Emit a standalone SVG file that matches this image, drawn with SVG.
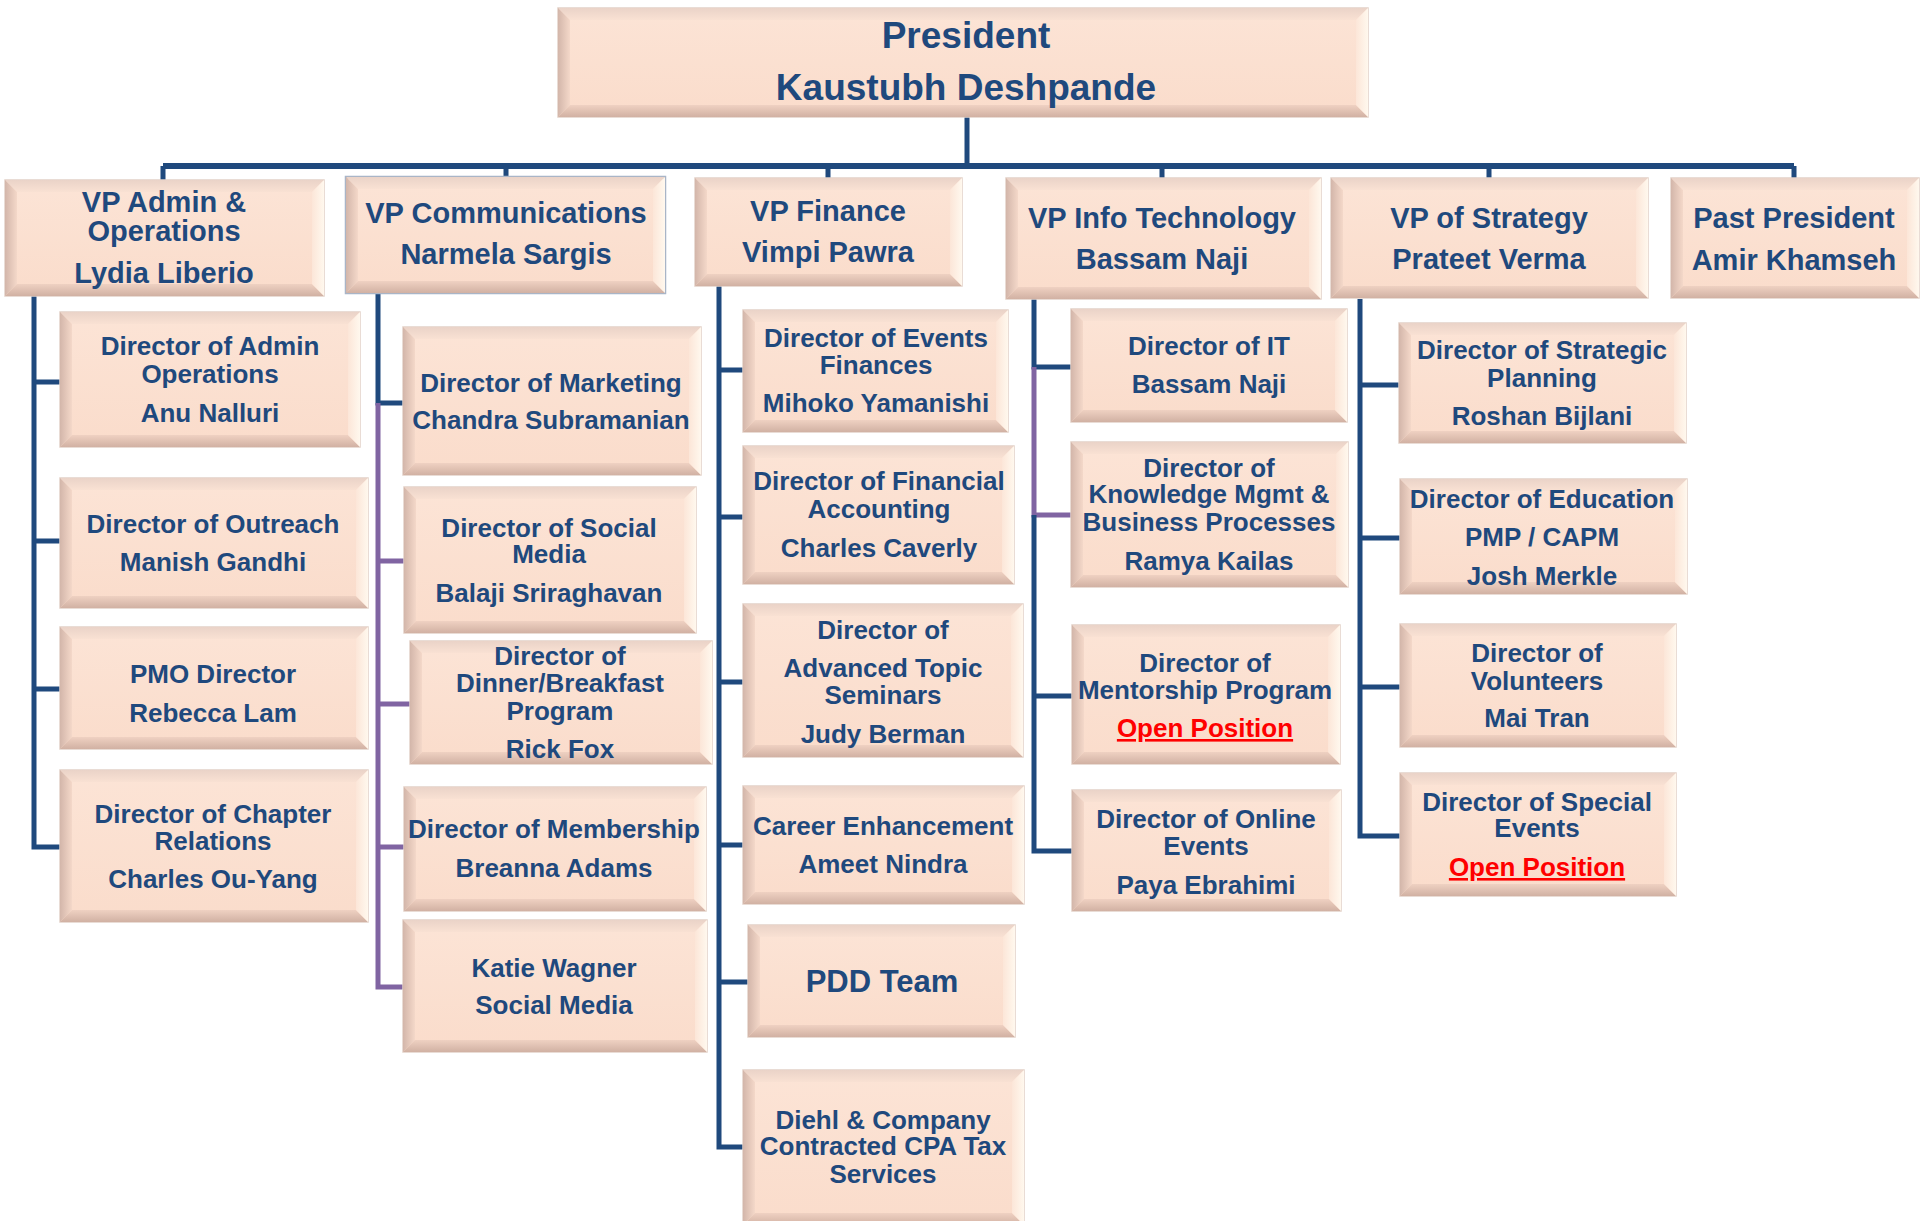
<svg xmlns="http://www.w3.org/2000/svg" width="1920" height="1221" viewBox="0 0 1920 1221">
<defs>
<linearGradient id="gF" x1="0" y1="0" x2="0" y2="1"><stop offset="0" stop-color="#FCE4D6"/><stop offset="1" stop-color="#FADCCB"/></linearGradient>
<linearGradient id="gT" x1="0" y1="0" x2="0" y2="1"><stop offset="0" stop-color="#EAD3C8"/><stop offset="1" stop-color="#F9E1D3"/></linearGradient>
<linearGradient id="gL" x1="0" y1="0" x2="1" y2="0"><stop offset="0" stop-color="#D3B6AA"/><stop offset="1" stop-color="#F4D8C9"/></linearGradient>
<linearGradient id="gB" x1="0" y1="0" x2="0" y2="1"><stop offset="0" stop-color="#EFD1C2"/><stop offset="1" stop-color="#D1B1A3"/></linearGradient>
<linearGradient id="gR" x1="0" y1="0" x2="1" y2="0"><stop offset="0" stop-color="#FCE6D8"/><stop offset="1" stop-color="#FFF8EE"/></linearGradient>
</defs>
<style>
.t{font-family:"Liberation Sans",Arial,Helvetica,sans-serif;font-weight:bold;fill:#1F497D;text-anchor:middle}
.p{font-size:37px}.vp{font-size:29px}.d{font-size:26px}.big{font-size:31px}
.open{fill:#FF0000;text-decoration:underline}
.face{fill:url(#gF);stroke:#E2D1C7;stroke-width:1.5}
.bt{fill:url(#gT)}.bl{fill:url(#gL)}.bb{fill:url(#gB)}.br{fill:url(#gR)}
.ln{fill:none;stroke:#1F497D;stroke-width:5}
.lp{fill:none;stroke:#8064A2;stroke-width:5}
</style>
<rect width="1920" height="1221" fill="#FFFFFF"/>

<g id="connectors">
<path class="ln" d="M967,117 V166"/>
<path class="ln" style="stroke-width:6" d="M163,166 H1794"/>
<path class="ln" d="M163,166 V180 M506,166 V177 M828,166 V178 M1162,166 V178 M1489,166 V178 M1794,166 V178"/>
<path class="ln" d="M34,296 V847 H60 M34,382 H60 M34,541 H60 M34,689 H60"/>
<path class="ln" d="M378,293 V403 H403"/>
<path class="lp" d="M378,403 V987 H403 M378,561 H404 M378,704 H410 M378,847 H404"/>
<path class="ln" d="M719,286 V1147 H743 M719,370 H743 M719,517 H743 M719,682 H743 M719,845 H743 M719,982 H748"/>
<path class="ln" d="M1034,299 V367 H1071"/>
<path class="lp" d="M1034,367 V515 H1071"/>
<path class="ln" d="M1034,515 V851 H1072 M1034,696 H1072"/>
<path class="ln" d="M1360,299 V836 H1400 M1360,385 H1400 M1360,538 H1400 M1360,687 H1400"/>
</g>

<g id="president">
<g transform="translate(558,8)"><rect class="face" width="810" height="109"/><polygon class="bt" points="0,0 810,0 798,12 12,12"/><polygon class="bl" points="0,0 12,12 12,97 0,109"/><polygon class="bb" points="0,109 12,97 798,97 810,109"/><polygon class="br" points="810,0 810,109 798,97 798,12"/></g>
<text class="t p" x="966" y="48">President</text>
<text class="t p" x="966" y="100">Kaustubh Deshpande</text>
</g>

<g id="vp-admin">
<g transform="translate(5,180)"><rect class="face" width="319" height="116"/><polygon class="bt" points="0,0 319,0 307,12 12,12"/><polygon class="bl" points="0,0 12,12 12,104 0,116"/><polygon class="bb" points="0,116 12,104 307,104 319,116"/><polygon class="br" points="319,0 319,116 307,104 307,12"/></g>
<text class="t vp" x="164" y="212">VP Admin &amp;</text>
<text class="t vp" x="164" y="241">Operations</text>
<text class="t vp" x="164" y="283">Lydia Liberio</text>
</g>

<g id="vp-comms">
<g transform="translate(346,177)"><rect class="face" width="319" height="116" style="stroke:#A9B5C7;stroke-width:2.5"/><polygon class="bt" points="0,0 319,0 307,12 12,12"/><polygon class="bl" points="0,0 12,12 12,104 0,116"/><polygon class="bb" points="0,116 12,104 307,104 319,116"/><polygon class="br" points="319,0 319,116 307,104 307,12"/></g>
<text class="t vp" x="506" y="223">VP Communications</text>
<text class="t vp" x="506" y="264">Narmela Sargis</text>
</g>

<g id="vp-finance">
<g transform="translate(695,178)"><rect class="face" width="267" height="108"/><polygon class="bt" points="0,0 267,0 255,12 12,12"/><polygon class="bl" points="0,0 12,12 12,96 0,108"/><polygon class="bb" points="0,108 12,96 255,96 267,108"/><polygon class="br" points="267,0 267,108 255,96 255,12"/></g>
<text class="t vp" x="828" y="221">VP Finance</text>
<text class="t vp" x="828" y="262">Vimpi Pawra</text>
</g>

<g id="vp-it">
<g transform="translate(1006,178)"><rect class="face" width="315" height="121"/><polygon class="bt" points="0,0 315,0 303,12 12,12"/><polygon class="bl" points="0,0 12,12 12,109 0,121"/><polygon class="bb" points="0,121 12,109 303,109 315,121"/><polygon class="br" points="315,0 315,121 303,109 303,12"/></g>
<text class="t vp" x="1162" y="228">VP Info Technology</text>
<text class="t vp" x="1162" y="269">Bassam Naji</text>
</g>

<g id="vp-strategy">
<g transform="translate(1331,178)"><rect class="face" width="317" height="120"/><polygon class="bt" points="0,0 317,0 305,12 12,12"/><polygon class="bl" points="0,0 12,12 12,108 0,120"/><polygon class="bb" points="0,120 12,108 305,108 317,120"/><polygon class="br" points="317,0 317,120 305,108 305,12"/></g>
<text class="t vp" x="1489" y="228">VP of Strategy</text>
<text class="t vp" x="1489" y="269">Prateet Verma</text>
</g>

<g id="past-president">
<g transform="translate(1671,178)"><rect class="face" width="248" height="120"/><polygon class="bt" points="0,0 248,0 236,12 12,12"/><polygon class="bl" points="0,0 12,12 12,108 0,120"/><polygon class="bb" points="0,120 12,108 236,108 248,120"/><polygon class="br" points="248,0 248,120 236,108 236,12"/></g>
<text class="t vp" x="1794" y="228">Past President</text>
<text class="t vp" x="1794" y="270">Amir Khamseh</text>
</g>

<g id="dir-admin-ops">
<g transform="translate(60,312)"><rect class="face" width="300" height="135"/><polygon class="bt" points="0,0 300,0 288,12 12,12"/><polygon class="bl" points="0,0 12,12 12,123 0,135"/><polygon class="bb" points="0,135 12,123 288,123 300,135"/><polygon class="br" points="300,0 300,135 288,123 288,12"/></g>
<text class="t d" x="210" y="355">Director of Admin</text>
<text class="t d" x="210" y="383">Operations</text>
<text class="t d" x="210" y="422">Anu Nalluri</text>
</g>

<g id="dir-outreach">
<g transform="translate(60,478)"><rect class="face" width="308" height="130"/><polygon class="bt" points="0,0 308,0 296,12 12,12"/><polygon class="bl" points="0,0 12,12 12,118 0,130"/><polygon class="bb" points="0,130 12,118 296,118 308,130"/><polygon class="br" points="308,0 308,130 296,118 296,12"/></g>
<text class="t d" x="213" y="533">Director of Outreach</text>
<text class="t d" x="213" y="571">Manish Gandhi</text>
</g>

<g id="pmo-director">
<g transform="translate(60,627)"><rect class="face" width="308" height="122"/><polygon class="bt" points="0,0 308,0 296,12 12,12"/><polygon class="bl" points="0,0 12,12 12,110 0,122"/><polygon class="bb" points="0,122 12,110 296,110 308,122"/><polygon class="br" points="308,0 308,122 296,110 296,12"/></g>
<text class="t d" x="213" y="683">PMO Director</text>
<text class="t d" x="213" y="722">Rebecca Lam</text>
</g>

<g id="dir-chapter">
<g transform="translate(60,770)"><rect class="face" width="308" height="152"/><polygon class="bt" points="0,0 308,0 296,12 12,12"/><polygon class="bl" points="0,0 12,12 12,140 0,152"/><polygon class="bb" points="0,152 12,140 296,140 308,152"/><polygon class="br" points="308,0 308,152 296,140 296,12"/></g>
<text class="t d" x="213" y="823">Director of Chapter</text>
<text class="t d" x="213" y="850">Relations</text>
<text class="t d" x="213" y="888">Charles Ou-Yang</text>
</g>

<g id="dir-marketing">
<g transform="translate(403,327)"><rect class="face" width="298" height="148"/><polygon class="bt" points="0,0 298,0 286,12 12,12"/><polygon class="bl" points="0,0 12,12 12,136 0,148"/><polygon class="bb" points="0,148 12,136 286,136 298,148"/><polygon class="br" points="298,0 298,148 286,136 286,12"/></g>
<text class="t d" x="551" y="392">Director of Marketing</text>
<text class="t d" x="551" y="429">Chandra Subramanian</text>
</g>

<g id="dir-social">
<g transform="translate(404,487)"><rect class="face" width="292" height="146"/><polygon class="bt" points="0,0 292,0 280,12 12,12"/><polygon class="bl" points="0,0 12,12 12,134 0,146"/><polygon class="bb" points="0,146 12,134 280,134 292,146"/><polygon class="br" points="292,0 292,146 280,134 280,12"/></g>
<text class="t d" x="549" y="537">Director of Social</text>
<text class="t d" x="549" y="563">Media</text>
<text class="t d" x="549" y="602">Balaji Sriraghavan</text>
</g>

<g id="dir-dinner">
<g transform="translate(410,641)"><rect class="face" width="302" height="123"/><polygon class="bt" points="0,0 302,0 290,12 12,12"/><polygon class="bl" points="0,0 12,12 12,111 0,123"/><polygon class="bb" points="0,123 12,111 290,111 302,123"/><polygon class="br" points="302,0 302,123 290,111 290,12"/></g>
<text class="t d" x="560" y="665">Director of</text>
<text class="t d" x="560" y="692">Dinner/Breakfast</text>
<text class="t d" x="560" y="720">Program</text>
<text class="t d" x="560" y="758">Rick Fox</text>
</g>

<g id="dir-membership">
<g transform="translate(404,787)"><rect class="face" width="302" height="124"/><polygon class="bt" points="0,0 302,0 290,12 12,12"/><polygon class="bl" points="0,0 12,12 12,112 0,124"/><polygon class="bb" points="0,124 12,112 290,112 302,124"/><polygon class="br" points="302,0 302,124 290,112 290,12"/></g>
<text class="t d" x="554" y="838">Director of Membership</text>
<text class="t d" x="554" y="877">Breanna Adams</text>
</g>

<g id="katie-wagner">
<g transform="translate(403,920)"><rect class="face" width="304" height="132"/><polygon class="bt" points="0,0 304,0 292,12 12,12"/><polygon class="bl" points="0,0 12,12 12,120 0,132"/><polygon class="bb" points="0,132 12,120 292,120 304,132"/><polygon class="br" points="304,0 304,132 292,120 292,12"/></g>
<text class="t d" x="554" y="977">Katie Wagner</text>
<text class="t d" x="554" y="1014">Social Media</text>
</g>

<g id="dir-events-fin">
<g transform="translate(743,310)"><rect class="face" width="265" height="122"/><polygon class="bt" points="0,0 265,0 253,12 12,12"/><polygon class="bl" points="0,0 12,12 12,110 0,122"/><polygon class="bb" points="0,122 12,110 253,110 265,122"/><polygon class="br" points="265,0 265,122 253,110 253,12"/></g>
<text class="t d" x="876" y="347">Director of Events</text>
<text class="t d" x="876" y="374">Finances</text>
<text class="t d" x="876" y="412">Mihoko Yamanishi</text>
</g>

<g id="dir-fin-acct">
<g transform="translate(743,446)"><rect class="face" width="271" height="138"/><polygon class="bt" points="0,0 271,0 259,12 12,12"/><polygon class="bl" points="0,0 12,12 12,126 0,138"/><polygon class="bb" points="0,138 12,126 259,126 271,138"/><polygon class="br" points="271,0 271,138 259,126 259,12"/></g>
<text class="t d" x="879" y="490">Director of Financial</text>
<text class="t d" x="879" y="518">Accounting</text>
<text class="t d" x="879" y="557">Charles Caverly</text>
</g>

<g id="dir-adv-topic">
<g transform="translate(743,604)"><rect class="face" width="280" height="153"/><polygon class="bt" points="0,0 280,0 268,12 12,12"/><polygon class="bl" points="0,0 12,12 12,141 0,153"/><polygon class="bb" points="0,153 12,141 268,141 280,153"/><polygon class="br" points="280,0 280,153 268,141 268,12"/></g>
<text class="t d" x="883" y="639">Director of</text>
<text class="t d" x="883" y="677">Advanced Topic</text>
<text class="t d" x="883" y="704">Seminars</text>
<text class="t d" x="883" y="743">Judy Berman</text>
</g>

<g id="career-enh">
<g transform="translate(743,786)"><rect class="face" width="281" height="118"/><polygon class="bt" points="0,0 281,0 269,12 12,12"/><polygon class="bl" points="0,0 12,12 12,106 0,118"/><polygon class="bb" points="0,118 12,106 269,106 281,118"/><polygon class="br" points="281,0 281,118 269,106 269,12"/></g>
<text class="t d" x="883" y="835">Career Enhancement</text>
<text class="t d" x="883" y="873">Ameet Nindra</text>
</g>

<g id="pdd-team">
<g transform="translate(748,925)"><rect class="face" width="267" height="112"/><polygon class="bt" points="0,0 267,0 255,12 12,12"/><polygon class="bl" points="0,0 12,12 12,100 0,112"/><polygon class="bb" points="0,112 12,100 255,100 267,112"/><polygon class="br" points="267,0 267,112 255,100 255,12"/></g>
<text class="t big" x="882" y="992">PDD Team</text>
</g>

<g id="diehl">
<g transform="translate(743,1070)"><rect class="face" width="281" height="155"/><polygon class="bt" points="0,0 281,0 269,12 12,12"/><polygon class="bl" points="0,0 12,12 12,143 0,155"/><polygon class="bb" points="0,155 12,143 269,143 281,155"/><polygon class="br" points="281,0 281,155 269,143 269,12"/></g>
<text class="t d" x="883" y="1129">Diehl &amp; Company</text>
<text class="t d" x="883" y="1155">Contracted CPA Tax</text>
<text class="t d" x="883" y="1183">Services</text>
</g>

<g id="dir-it">
<g transform="translate(1071,309)"><rect class="face" width="276" height="113"/><polygon class="bt" points="0,0 276,0 264,12 12,12"/><polygon class="bl" points="0,0 12,12 12,101 0,113"/><polygon class="bb" points="0,113 12,101 264,101 276,113"/><polygon class="br" points="276,0 276,113 264,101 264,12"/></g>
<text class="t d" x="1209" y="355">Director of IT</text>
<text class="t d" x="1209" y="393">Bassam Naji</text>
</g>

<g id="dir-km">
<g transform="translate(1071,442)"><rect class="face" width="277" height="145"/><polygon class="bt" points="0,0 277,0 265,12 12,12"/><polygon class="bl" points="0,0 12,12 12,133 0,145"/><polygon class="bb" points="0,145 12,133 265,133 277,145"/><polygon class="br" points="277,0 277,145 265,133 265,12"/></g>
<text class="t d" x="1209" y="477">Director of</text>
<text class="t d" x="1209" y="503">Knowledge Mgmt &amp;</text>
<text class="t d" x="1209" y="531">Business Processes</text>
<text class="t d" x="1209" y="570">Ramya Kailas</text>
</g>

<g id="dir-mentorship">
<g transform="translate(1072,625)"><rect class="face" width="268" height="139"/><polygon class="bt" points="0,0 268,0 256,12 12,12"/><polygon class="bl" points="0,0 12,12 12,127 0,139"/><polygon class="bb" points="0,139 12,127 256,127 268,139"/><polygon class="br" points="268,0 268,139 256,127 256,12"/></g>
<text class="t d" x="1205" y="672">Director of</text>
<text class="t d" x="1205" y="699">Mentorship Program</text>
<text class="t d open" x="1205" y="737">Open Position</text>
</g>

<g id="dir-online">
<g transform="translate(1072,790)"><rect class="face" width="269" height="121"/><polygon class="bt" points="0,0 269,0 257,12 12,12"/><polygon class="bl" points="0,0 12,12 12,109 0,121"/><polygon class="bb" points="0,121 12,109 257,109 269,121"/><polygon class="br" points="269,0 269,121 257,109 257,12"/></g>
<text class="t d" x="1206" y="828">Director of Online</text>
<text class="t d" x="1206" y="855">Events</text>
<text class="t d" x="1206" y="894">Paya Ebrahimi</text>
</g>

<g id="dir-strategic">
<g transform="translate(1399,323)"><rect class="face" width="287" height="120"/><polygon class="bt" points="0,0 287,0 275,12 12,12"/><polygon class="bl" points="0,0 12,12 12,108 0,120"/><polygon class="bb" points="0,120 12,108 275,108 287,120"/><polygon class="br" points="287,0 287,120 275,108 275,12"/></g>
<text class="t d" x="1542" y="359">Director of Strategic</text>
<text class="t d" x="1542" y="387">Planning</text>
<text class="t d" x="1542" y="425">Roshan Bijlani</text>
</g>

<g id="dir-education">
<g transform="translate(1400,479)"><rect class="face" width="287" height="115"/><polygon class="bt" points="0,0 287,0 275,12 12,12"/><polygon class="bl" points="0,0 12,12 12,103 0,115"/><polygon class="bb" points="0,115 12,103 275,103 287,115"/><polygon class="br" points="287,0 287,115 275,103 275,12"/></g>
<text class="t d" x="1542" y="508">Director of Education</text>
<text class="t d" x="1542" y="546">PMP / CAPM</text>
<text class="t d" x="1542" y="585">Josh Merkle</text>
</g>

<g id="dir-volunteers">
<g transform="translate(1400,624)"><rect class="face" width="276" height="123"/><polygon class="bt" points="0,0 276,0 264,12 12,12"/><polygon class="bl" points="0,0 12,12 12,111 0,123"/><polygon class="bb" points="0,123 12,111 264,111 276,123"/><polygon class="br" points="276,0 276,123 264,111 264,12"/></g>
<text class="t d" x="1537" y="662">Director of</text>
<text class="t d" x="1537" y="690">Volunteers</text>
<text class="t d" x="1537" y="727">Mai Tran</text>
</g>

<g id="dir-special">
<g transform="translate(1400,773)"><rect class="face" width="276" height="123"/><polygon class="bt" points="0,0 276,0 264,12 12,12"/><polygon class="bl" points="0,0 12,12 12,111 0,123"/><polygon class="bb" points="0,123 12,111 264,111 276,123"/><polygon class="br" points="276,0 276,123 264,111 264,12"/></g>
<text class="t d" x="1537" y="811">Director of Special</text>
<text class="t d" x="1537" y="837">Events</text>
<text class="t d open" x="1537" y="876">Open Position</text>
</g>
</svg>
